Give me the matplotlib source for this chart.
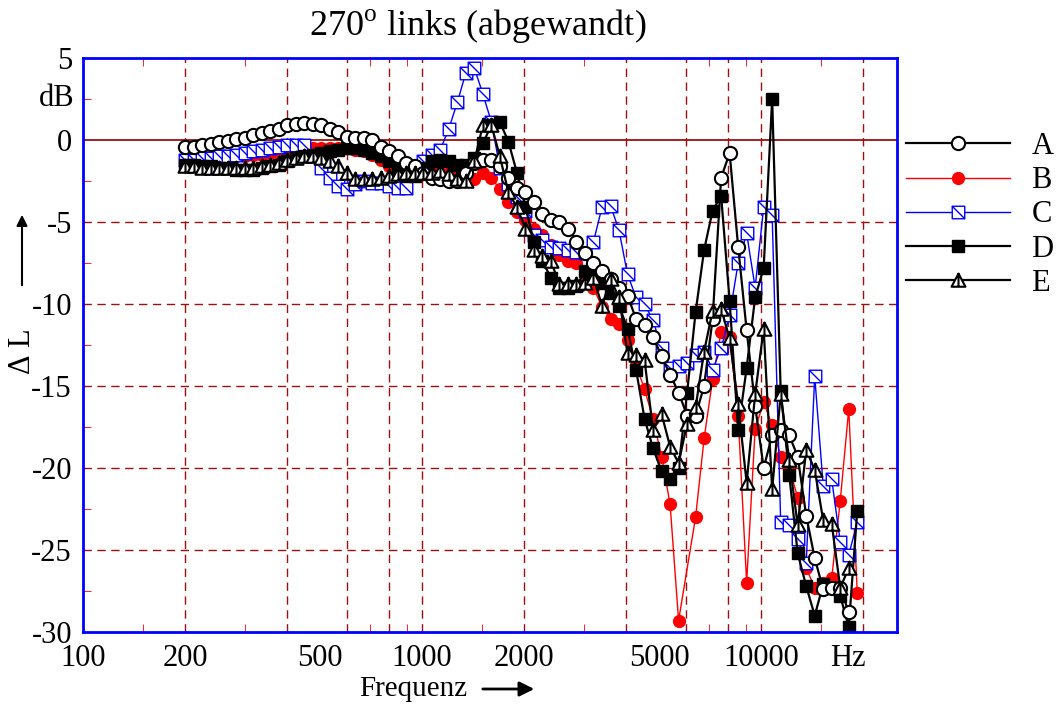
import numpy as np
import matplotlib
matplotlib.use('Agg')
import matplotlib.pyplot as plt
from matplotlib.path import Path
from matplotlib.ticker import FixedLocator, NullFormatter
from matplotlib.transforms import blended_transform_factory

plt.rcParams['font.family'] = 'Liberation Serif'
plt.rcParams['mathtext.fontset'] = 'custom'
plt.rcParams['mathtext.rm'] = 'Liberation Serif'

nan = np.nan

# 1/12-octave measurement frequencies (Hz)
freq = [200, 212, 224, 238, 252, 267, 283, 300, 317, 336,
        356, 378, 400, 424, 449, 476, 504, 534, 566, 599,
        635, 673, 713, 755, 800, 848, 898, 951, 1008, 1068,
        1131, 1199, 1270, 1345, 1425, 1510, 1600, 1695, 1796, 1903,
        2016, 2136, 2263, 2397, 2540, 2691, 2851, 3021, 3200, 3390,
        3592, 3805, 4032, 4272, 4525, 4795, 5080, 5382, 5702, 6041,
        6400, 6781, 7184, 7611, 8063, 8543, 9051, 9589, 10159, 10763,
        11404, 12082, 12800, 13561, 14368, 15222, 16127, 17086, 18102, 19179]

A = [-0.4, -0.4, -0.3, -0.25, -0.15, -0.05, 0.05, 0.15, 0.3, 0.4,
     0.55, 0.7, 0.9, 1.0, 1.05, 1.0, 0.9, 0.7, 0.5, 0.2,
     0.1, 0.1, 0.0, -0.4, -0.65, -1.0, -1.4, -1.6, -2.0, -2.3,
     -2.4, -2.5, -2.5, -2.0, -1.4, -1.2, -1.2, -1.6, -2.3, -2.9,
     -3.2, -3.8, -4.5, -4.9, -5.0, -5.4, -6.2, -6.9, -7.5, -8.0,
     -8.5, -9.0, -9.5, -10.9, -11.3, -12.0, -13.2, -14.3, -15.4, -16.8,
     -16.8, -15.0, -10.9, -2.3, -0.8, -6.5, -11.6, -16.2, -20.0, -18.0,
     -17.7, -18.0, -19.3, -22.9, -25.5, -27.4, -27.3, -27.3, -28.8, nan]

B = [-1.1, -1.1, -1.1, -1.1, -1.0, -1.0, -1.0, -1.0, -0.9, -0.9,
     -0.8, -0.8, -0.7, -0.6, -0.5, -0.5, -0.5, -0.5, -0.5, -0.5,
     -0.6, -0.7, -0.9, -1.2, -1.6, -1.9, -2.0, -2.1, -2.1, -2.0,
     -2.0, -2.0, -2.0, -2.4, -2.4, -2.0, -2.3, -3.0, -3.8, -4.4,
     -4.9, -5.4, -5.8, -6.4, -7.0, -7.4, -7.5, -8.2, -9.0, -10.2,
     -10.9, -11.2, -12.2, -13.7, -15.2, -17.0, -19.3, -22.2, -29.3, nan,
     -23.0, -18.2, -14.6, -11.7, -12.0, -16.8, -27.0, -17.6, -16.0, -17.4,
     -19.3, -20.0, -21.8, -26.1, -27.3, -27.0, -26.7, -22.0, -16.4, -27.6]

C = [-1.2, -1.2, -1.1, -1.1, -1.0, -1.0, -0.9, -0.8, -0.7, -0.6,
     -0.5, -0.4, -0.3, -0.3, -0.3, -1.0, -1.7, -2.3, -2.8, -3.0,
     -2.7, -2.5, -2.6, -2.6, -2.8, -2.9, -2.9, -1.6, -1.3, -0.9,
     -0.6, 0.7, 2.3, 4.1, 4.4, 2.8, 1.1, -1.7, -2.7, -3.5,
     -4.3, -5.8, -6.1, -6.5, -6.6, -6.7, -6.8, -6.9, -6.2, -4.1,
     -4.0, -5.5, -8.2, -9.6, -10.0, -11.0, -12.7, -13.9, -13.8, -13.6,
     -13.1, -12.9, -14.0, -12.7, -10.7, -7.5, -5.7, -9.0, -4.1, -4.6,
     -23.3, -23.5, -24.3, -25.8, -14.4, -21.1, -20.7, -24.5, -25.3, -23.3]

D = [-1.5, -1.5, -1.6, -1.6, -1.7, -1.7, -1.8, -1.8, -1.8, -1.7,
     -1.6, -1.5, -1.3, -1.1, -1.0, -0.9, -0.8, -0.7, -0.6, -0.5,
     -0.5, -0.6, -0.8, -1.0, -1.3, -1.8, -2.2, -2.2, -1.7, -1.3,
     -1.2, -1.3, -1.5, -1.5, -1.1, -0.2, 0.9, 1.1, -0.1, -2.0,
     -4.1, -6.2, -7.4, -8.4, -9.0, -9.0, -8.9, -8.0, -8.1, -8.7,
     -9.3, -10.1, -11.5, -14.0, -17.0, -18.8, -20.2, -20.7, -20.0, -15.4,
     -10.5, -6.7, -4.3, -3.4, -9.8, -17.7, -13.9, -9.6, -7.8, 2.5,
     -15.3, -20.4, -25.2, -27.2, -29.0, -27.1, -27.3, -27.8, -29.7, -22.6]

E = [-1.6, -1.6, -1.7, -1.7, -1.7, -1.7, -1.7, -1.7, -1.7, -1.6,
     -1.5, -1.4, -1.2, -1.1, -1.0, -1.0, -1.1, -1.3, -1.6, -2.0,
     -2.4, -2.4, -2.4, -2.3, -2.2, -2.1, -2.0, -2.0, -2.0, -2.0,
     -1.9, -2.1, -2.4, -2.5, -1.3, 0.9, 0.9, -1.0, -3.2, -4.1,
     -5.4, -6.7, -7.1, -7.4, -8.8, -8.8, -8.8, -8.7, -8.4, -10.1,
     -8.5, -9.6, -13.0, -13.1, -13.4, -17.7, -16.7, -18.7, -19.7, -17.3,
     -16.3, -12.9, -10.4, -10.3, -12.1, -16.1, -20.9, -15.5, -11.5, -21.3,
     -15.5, -19.5, -23.5, -18.9, -20.1, -23.2, -23.4, -27.3, -26.1, nan]

xticks = [100, 200, 500, 1000, 2000, 5000, 10000, 18000]
xticklabels = ['100', '200', '500', '1000', '2000', '5000', '10000', 'Hz']
xgrid = [200, 400, 600, 800, 1000, 2000, 4000, 6000, 8000, 10000, 20000]
xminor = [150, 300, 500, 700, 900, 1500, 3000, 5000, 7000, 9000, 15000]
yticks = [-30, -25, -20, -15, -10, -5, 0, 5]

# markers: square with diagonal, triangle with centre bar
sq_diag = Path([(-1, -1), (1, -1), (1, 1), (-1, 1), (-1, -1), (-1, 1), (1, -1)],
               [Path.MOVETO, Path.LINETO, Path.LINETO, Path.LINETO, Path.CLOSEPOLY,
                Path.MOVETO, Path.LINETO])
tri_bar = Path([(0, 1), (-1, -0.9), (1, -0.9), (0, 1), (0, 1), (0, -0.9)],
               [Path.MOVETO, Path.LINETO, Path.LINETO, Path.CLOSEPOLY,
                Path.MOVETO, Path.LINETO])

fig = plt.figure(figsize=(10.58, 7.04), dpi=100)
ax = fig.add_axes([83/1058, 72/704, 814/1058, 574/704])
ax.set_xscale('log')

gridcol = '#9b1010'
for f in xgrid:
    ax.axvline(f, color=gridcol, lw=1, ls=(0, (6, 4)), zorder=1)
for v in [-25, -20, -15, -10, -5]:
    ax.axhline(v, color=gridcol, lw=1, ls=(0, (6, 4)), zorder=1)
ax.axhline(0, color=gridcol, lw=1.3, zorder=1)

f = np.array(freq, dtype=float)


def draw(vals, **kw):
    y = np.array(vals, dtype=float)
    m = ~np.isnan(y)
    return ax.plot(f[m], y[m], **kw)[0]


hB = draw(B, color='red', lw=1, marker='o', ms=8.5, mfc='red', mec='red', label='B', zorder=3)
hC = draw(C, color='blue', lw=1, marker=sq_diag, ms=9, mfc='white', mec='blue', mew=1,
          label='C', zorder=4)
hD = draw(D, color='black', lw=1.6, marker='s', ms=9, mfc='black', mec='black', label='D', zorder=5)
hA = draw(A, color='black', lw=1.6, marker='o', ms=9.5, mfc='white', mec='black', mew=1.5,
          label='A', zorder=6)
hE = draw(E, color='black', lw=1.6, marker=tri_bar, ms=10, mfc='white', mec='black', mew=1.5,
          label='E', zorder=7)

ax.set_xlim(100, 25119)
ax.set_ylim(-30, 5)

ax.xaxis.set_major_locator(FixedLocator(xticks))
ax.set_xticklabels(xticklabels)
ax.xaxis.set_minor_locator(FixedLocator(xminor))
ax.xaxis.set_minor_formatter(NullFormatter())
ax.yaxis.set_major_locator(FixedLocator(yticks))
ax.set_yticklabels([str(v) for v in yticks])
ax.yaxis.set_minor_locator(FixedLocator(np.arange(-27.5, 5, 5)))

ax.tick_params(axis='both', which='major', length=0, labelsize=22)
ax.tick_params(axis='x', which='major', pad=9)
ax.tick_params(axis='y', which='major', pad=8)
ax.tick_params(axis='x', which='minor', direction='in', length=6, color='red',
               top=True, bottom=True)
ax.tick_params(axis='y', which='minor', direction='in', length=6, color='red',
               left=True, right=False)

for s in ax.spines.values():
    s.set_color('blue')
    s.set_linewidth(2)
    s.set_zorder(8)

tr = blended_transform_factory(ax.transAxes, ax.transData)
ax.text(-0.011, 2.5, 'dB', transform=tr, ha='right', va='center', fontsize=22)

fig.text(478/1058, 1 - 26/704, r'270$^{\rm o}$ links (abgewandt)', ha='center', va='center',
         fontsize=26)

fig.text(413/1058, 15/704, 'Frequenz', ha='center', va='center', fontsize=21)
ax.annotate('', xy=(537, 15), xytext=(480, 15), xycoords='figure pixels',
            textcoords='figure pixels',
            arrowprops=dict(arrowstyle='-|>', lw=2, color='black', mutation_scale=22))
fig.text(22/1058, 352/704, r'$\Delta$ L', ha='center', va='center', fontsize=22, rotation=90)
ax.annotate('', xy=(22, 492), xytext=(22, 416), xycoords='figure pixels',
            textcoords='figure pixels',
            arrowprops=dict(arrowstyle='-|>', lw=1.5, color='black', mutation_scale=16))

fig.legend([hA, hB, hC, hD, hE], ['A', 'B', 'C', 'D', 'E'], loc='upper left',
           bbox_to_anchor=(906/1058, 1 - 132/704), frameon=False, fontsize=22,
           handlelength=3.4, handletextpad=0.7, labelspacing=0.17, borderpad=0,
           borderaxespad=0, numpoints=1)

fig.savefig('out.png', dpi=100)
